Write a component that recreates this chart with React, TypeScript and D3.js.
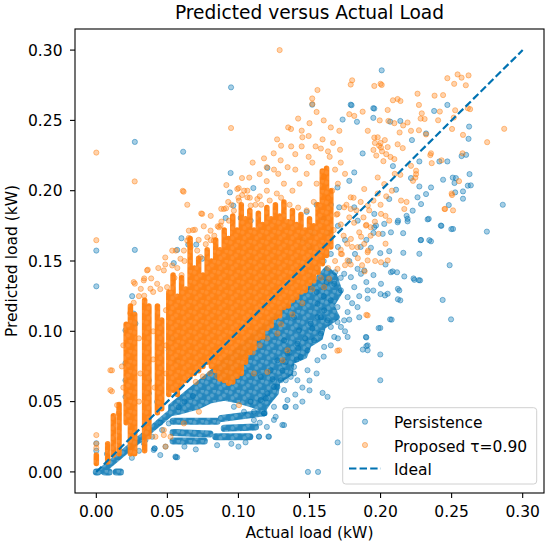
import React from 'react'
import * as d3 from 'd3'

// tick values for both axes (kW)
const xTicks = [0, 0.05, 0.1, 0.15, 0.2, 0.25, 0.3]
const yTicks = [0, 0.05, 0.1, 0.15, 0.2, 0.25, 0.3]
const legendLabels = ['Persistence', 'Proposed \u03c4=0.90', 'Ideal']
const ideal = [[0, 0], [0.3, 0.3]]

// outline of the solid persistence cloud under the diagonal [x, y]
const blueCloud = [
  [0.052, 0.047], [0.075, 0.066], [0.1, 0.088], [0.13, 0.115], [0.15, 0.132], [0.162, 0.145],
  [0.168, 0.14], [0.172, 0.128], [0.166, 0.118], [0.17, 0.11], [0.16, 0.103], [0.158, 0.095],
  [0.15, 0.09], [0.147, 0.082], [0.138, 0.078], [0.137, 0.07], [0.128, 0.064], [0.127, 0.056],
  [0.122, 0.05], [0.118, 0.044], [0.11, 0.047], [0.1, 0.05], [0.09, 0.052], [0.08, 0.05],
  [0.072, 0.046], [0.065, 0.044], [0.058, 0.042], [0.052, 0.041],
]

// dense persistence streaks [x0, y0, x1, y1]
const blueStreaks = [
  [0.0, 0.0, 0.001, 0.0], [0.006, 0.0, 0.009, 0.0], [0.014, 0.0, 0.017, 0.0],
  [0.004, 0.001, 0.03, 0.023], [0.03, 0.023, 0.058, 0.047],
  [0.054, 0.036, 0.085, 0.036], [0.088, 0.038, 0.118, 0.042],
  [0.054, 0.028, 0.08, 0.027], [0.054, 0.022, 0.076, 0.022], [0.084, 0.025, 0.108, 0.025],
  [0.09, 0.031, 0.112, 0.032],
]

// dense vertical stacks of the proposed model: [x, yLow, yHigh]
const orangeStacks = [
  [0.0, 0.006, 0.012], [0.008, 0.007, 0.02], [0.012, 0.012, 0.04], [0.016, 0.013, 0.048],
  [0.021, 0.035, 0.105], [0.024, 0.013, 0.118], [0.027, 0.013, 0.112], [0.034, 0.015, 0.122],
  [0.037, 0.025, 0.118], [0.043, 0.042, 0.118], [0.046, 0.045, 0.108], [0.051, 0.055, 0.128],
  [0.054, 0.058, 0.14], [0.057, 0.055, 0.125], [0.06, 0.062, 0.138], [0.063, 0.065, 0.13],
  [0.066, 0.068, 0.166], [0.069, 0.07, 0.145], [0.072, 0.072, 0.152], [0.075, 0.075, 0.14],
  [0.078, 0.078, 0.158], [0.081, 0.075, 0.15], [0.084, 0.072, 0.165], [0.087, 0.066, 0.158],
  [0.09, 0.065, 0.172], [0.093, 0.063, 0.166], [0.096, 0.064, 0.182], [0.099, 0.068, 0.172],
  [0.102, 0.07, 0.19], [0.105, 0.078, 0.18], [0.108, 0.085, 0.186], [0.111, 0.088, 0.172],
  [0.114, 0.095, 0.184], [0.117, 0.096, 0.176], [0.12, 0.102, 0.188], [0.123, 0.104, 0.18],
  [0.126, 0.11, 0.19], [0.129, 0.111, 0.182], [0.132, 0.117, 0.192], [0.135, 0.118, 0.178],
  [0.138, 0.122, 0.186], [0.141, 0.124, 0.176], [0.144, 0.128, 0.183], [0.147, 0.129, 0.172],
  [0.15, 0.134, 0.18], [0.153, 0.136, 0.175], [0.156, 0.142, 0.19], [0.159, 0.148, 0.214],
  [0.162, 0.154, 0.216], [0.165, 0.16, 0.2],
]

// single persistence forecasts [actual, predicted]
const bluePoints = [
  [0.0948, 0.2735], [0.2008, 0.2856], [0.0271, 0.2347], [0.0611, 0.2277], [0.0, 0.1574], [0.0, 0.132],
  [0.0271, 0.1579], [0.286, 0.19], [0.2748, 0.1709], [0.2496, 0.1085], [0.2437, 0.1223], [0.2486, 0.147],
  [0.1998, 0.0652], [0.1998, 0.0835], [0.1986, 0.1023], [0.1698, 0.021], [0.1489, 0.0], [0.156, 0.0],
  [0.1592, 0.0562], [0.1627, 0.0534], [0.1329, 0.0462], [0.1309, 0.0334], [0.1211, 0.0252], [0.1144, 0.0252],
  [0.0559, 0.0104], [0.0411, 0.0166], [0.0945, 0.2126], [0.094, 0.1988], [0.1105, 0.2019], [0.0964, 0.1894],
  [0.1204, 0.2162], [0.179, 0.2612], [0.1949, 0.2587], [0.1519, 0.2612], [0.0599, 0.1662], [0.0647, 0.1617],
  [0.0703, 0.1617], [0.0569, 0.1579], [0.0545, 0.1485], [0.0745, 0.1516], [0.091, 0.1806], [0.1016, 0.1806],
  [0.1086, 0.1787], [0.0252, 0.125], [0.1796, 0.2608], [0.1956, 0.2584], [0.1733, 0.2506], [0.1834, 0.249],
  [0.1949, 0.2518], [0.2139, 0.2496], [0.2068, 0.2491], [0.2377, 0.2567], [0.247, 0.261], [0.2623, 0.2456],
  [0.2619, 0.2369], [0.2221, 0.236], [0.232, 0.2407], [0.2602, 0.2255], [0.257, 0.2246], [0.2414, 0.2208],
  [0.247, 0.2208], [0.2273, 0.2208], [0.2087, 0.2175], [0.2214, 0.209], [0.244, 0.2078], [0.253, 0.209],
  [0.252, 0.2055], [0.2635, 0.2038], [0.258, 0.1995], [0.2525, 0.1988], [0.2273, 0.203], [0.2355, 0.2023],
  [0.226, 0.1953], [0.2285, 0.1905], [0.232, 0.1976], [0.2109, 0.2007], [0.2061, 0.1941], [0.248, 0.1898],
  [0.258, 0.1943], [0.2226, 0.1858], [0.219, 0.18], [0.2123, 0.1787], [0.2339, 0.18], [0.2428, 0.175],
  [0.251, 0.1728], [0.1956, 0.174], [0.2015, 0.1693], [0.2073, 0.1704], [0.1874, 0.2265], [0.1815, 0.213],
  [0.178, 0.207], [0.1697, 0.2023], [0.1709, 0.1882], [0.1815, 0.1882], [0.1956, 0.1835], [0.1839, 0.1787],
  [0.2614, 0.2036], [0.2626, 0.2118], [0.2508, 0.2093], [0.2331, 0.1796], [0.2424, 0.1752], [0.2498, 0.1727],
  [0.2282, 0.1648], [0.2343, 0.1648], [0.2232, 0.1376], [0.2269, 0.1364], [0.2122, 0.1302], [0.2122, 0.1228],
  [0.2067, 0.1085], [0.19, 0.0956], [0.19, 0.0895], [0.1875, 0.087], [0.2085, 0.1426], [0.2035, 0.1475],
  [0.1949, 0.129], [0.2, 0.1265], [0.2159, 0.1698], [0.2183, 0.1821], [0.1968, 0.1752], [0.2026, 0.1764],
  [0.212, 0.1775], [0.219, 0.1782], [0.2355, 0.164], [0.2285, 0.165], [0.216, 0.1558], [0.2273, 0.1551],
  [0.2061, 0.157], [0.1998, 0.1556], [0.1932, 0.1594], [0.2073, 0.142], [0.2116, 0.142], [0.2167, 0.139],
  [0.2238, 0.1366], [0.2278, 0.1362], [0.2003, 0.1338], [0.205, 0.1267], [0.2031, 0.1255], [0.2132, 0.1291],
  [0.2139, 0.122], [0.1909, 0.1291], [0.1909, 0.1232], [0.2078, 0.1083], [0.1998, 0.1024], [0.1897, 0.096],
  [0.1909, 0.09], [0.1909, 0.0865], [0.178, 0.1083], [0.1768, 0.1137], [0.1697, 0.1066], [0.1838, 0.1444],
  [0.1885, 0.1433], [0.1862, 0.1409], [0.1791, 0.1385], [0.1744, 0.1409], [0.1815, 0.1314], [0.1721, 0.1291],
  [0.1768, 0.1243], [0.165, 0.122], [0.1697, 0.1172], [0.1603, 0.1149], [0.1627, 0.1078], [0.1556, 0.1101],
  [0.1721, 0.1031], [0.158, 0.0984], [0.1674, 0.096], [0.1532, 0.0936], [0.1603, 0.0889], [0.1486, 0.0865],
  [0.1556, 0.0794], [0.1439, 0.0818], [0.1391, 0.0747], [0.1486, 0.0723], [0.1368, 0.0676], [0.1298, 0.0652],
  [0.125, 0.0605], [0.1321, 0.0582], [0.1204, 0.0558], [0.1157, 0.0511], [0.1345, 0.0511], [0.125, 0.0463],
  [0.118, 0.0416], [0.1109, 0.0428], [0.1768, 0.096], [0.1744, 0.1078], [0.1838, 0.1172], [0.1674, 0.1338],
  [0.1486, 0.1314], [0.1556, 0.1196], [0.165, 0.1031], [0.1427, 0.1007], [0.1509, 0.1055], [0.1391, 0.1101],
  [0.1321, 0.0936], [0.1415, 0.0913], [0.1345, 0.0842], [0.1274, 0.0794], [0.1227, 0.0723], [0.1157, 0.0676],
  [0.0, 0.0151], [0.0, 0.0204], [0.0075, 0.0128], [0.0557, 0.0109], [0.0404, 0.0156], [0.0487, 0.018],
  [0.0334, 0.0204], [0.0205, 0.1007], [0.0275, 0.1055], [0.0263, 0.1126], [0.0205, 0.0773], [0.0205, 0.0652],
  [0.0205, 0.0534], [0.0369, 0.0652], [0.0369, 0.0558], [0.0428, 0.0499], [0.051, 0.0345], [0.0463, 0.0298],
  [0.0393, 0.025], [0.0346, 0.0227], [0.0534, 0.0948], [0.051, 0.0865], [0.0569, 0.0794], [0.0569, 0.0104],
  [0.0409, 0.0168], [0.1145, 0.025], [0.1215, 0.025], [0.1333, 0.0463], [0.1262, 0.0392], [0.1321, 0.0333],
  [0.1403, 0.0463], [0.1415, 0.0652], [0.1391, 0.07], [0.1333, 0.0652], [0.1274, 0.0605], [0.1192, 0.0522],
  [0.1086, 0.0499], [0.0968, 0.0463], [0.118, 0.0416], [0.1109, 0.0369], [0.1039, 0.0428],
  [0.15, 0.14], [0.155, 0.145], [0.16, 0.15], [0.165, 0.155], [0.17, 0.16], [0.175, 0.165],
  [0.168, 0.142], [0.172, 0.138], [0.178, 0.15], [0.182, 0.155], [0.186, 0.16], [0.19, 0.165],
  [0.195, 0.17], [0.18, 0.12], [0.185, 0.11], [0.175, 0.1], [0.17, 0.095], [0.165, 0.09],
  [0.16, 0.082], [0.155, 0.07], [0.15, 0.065], [0.145, 0.06], [0.14, 0.055], [0.145, 0.05],
  [0.15, 0.058], [0.185, 0.125], [0.19, 0.135], [0.195, 0.14], [0.16, 0.125], [0.155, 0.128],
  [0.162, 0.135], [0.158, 0.16], [0.163, 0.17], [0.17, 0.175], [0.16, 0.18], [0.152, 0.17],
  [0.15, 0.16], [0.145, 0.165], [0.155, 0.19], [0.148, 0.185], [0.165, 0.19], [0.025, 0.01],
  [0.03, 0.015], [0.045, 0.012], [0.062, 0.018], [0.07, 0.016], [0.095, 0.02], [0.1, 0.018],
  [0.105, 0.021], [0.085, 0.019], [0.115, 0.035], [0.12, 0.032], [0.125, 0.037], [0.045, 0.035],
  [0.142, 0.088], [0.147, 0.095], [0.152, 0.102], [0.158, 0.11], [0.136, 0.085], [0.131, 0.072],
  [0.124, 0.066], [0.133, 0.078], [0.141, 0.08], [0.062, 0.05], [0.068, 0.054], [0.058, 0.046],
]

// single proposed-model forecasts [actual, predicted]
const orangePoints = [
  [0.129, 0.3], [0.0948, 0.2446], [0.0608, 0.1999], [0.064, 0.19], [0.0738, 0.1838], [0.0913, 0.1875],
  [0.1556, 0.2716], [0.1519, 0.2656], [0.152, 0.2617], [0.011, 0.0722], [0.011, 0.0573], [0.0, 0.1648],
  [0.0, 0.2271], [0.19, 0.1117], [0.1696, 0.0862], [0.0362, 0.1438], [0.0337, 0.1376], [0.0271, 0.1339],
  [0.0534, 0.1574], [0.0485, 0.1475], [0.179, 0.2755], [0.2, 0.276], [0.142, 0.2513], [0.137, 0.2439],
  [0.1272, 0.2365], [0.1248, 0.2266], [0.1445, 0.2427], [0.1494, 0.2389], [0.1543, 0.2315], [0.1592, 0.2365],
  [0.1666, 0.234], [0.1715, 0.2291], [0.1642, 0.2241], [0.1494, 0.2241], [0.1445, 0.2315], [0.1371, 0.2315],
  [0.1297, 0.2216], [0.1346, 0.2167], [0.1199, 0.2167], [0.1149, 0.2118], [0.1076, 0.2093], [0.1199, 0.2068],
  [0.1002, 0.2019], [0.1026, 0.1969], [0.0928, 0.192], [0.0879, 0.1871], [0.0805, 0.1821], [0.0854, 0.1747],
  [0.0756, 0.1747], [0.0694, 0.1722], [0.0805, 0.1648], [0.0657, 0.1623], [0.0559, 0.1574], [0.0485, 0.1525],
  [0.0436, 0.145], [0.0386, 0.1376], [0.0313, 0.1302], [0.0337, 0.1253], [0.0263, 0.1203], [0.0239, 0.1129],
  [0.027, 0.2066], [0.0614, 0.1993], [0.0745, 0.1835], [0.1025, 0.209], [0.0915, 0.204], [0.0651, 0.1716],
  [0.0651, 0.1664], [0.0863, 0.174], [0.0898, 0.187], [0.1004, 0.1929], [0.1063, 0.1953], [0.0781, 0.1669],
  [0.0827, 0.1645], [0.0733, 0.1527], [0.0592, 0.1516], [0.0534, 0.1468], [0.0475, 0.1433], [0.0357, 0.1433],
  [0.0334, 0.1362], [0.0263, 0.135], [0.0428, 0.1338], [0.0498, 0.1314], [0.0381, 0.1303], [0.064, 0.1645],
  [0.0616, 0.1574], [0.0663, 0.1598], [0.071, 0.1574], [0.0804, 0.1716], [0.0874, 0.1752], [0.0933, 0.1787],
  [0.0968, 0.1858], [0.1086, 0.1894], [0.1133, 0.1941], [0.1063, 0.2], [0.0992, 0.2012], [0.18, 0.2785],
  [0.1956, 0.2745], [0.2008, 0.2752], [0.247, 0.28], [0.257, 0.2804], [0.2619, 0.282], [0.26, 0.275],
  [0.226, 0.269], [0.238, 0.2676], [0.244, 0.268], [0.2087, 0.2643], [0.212, 0.2652], [0.214, 0.2638],
  [0.227, 0.261], [0.205, 0.2574], [0.263, 0.258], [0.287, 0.244], [0.275, 0.2345], [0.229, 0.255],
  [0.231, 0.251], [0.2417, 0.2563], [0.2525, 0.2572], [0.2515, 0.252], [0.258, 0.2397], [0.235, 0.2253],
  [0.236, 0.2196], [0.25, 0.198], [0.251, 0.186], [0.245, 0.187], [0.2228, 0.207], [0.225, 0.2118],
  [0.2144, 0.193], [0.2167, 0.187], [0.19, 0.1757], [0.193, 0.174], [0.219, 0.2485], [0.2214, 0.2426],
  [0.227, 0.243], [0.232, 0.24], [0.2097, 0.248], [0.2055, 0.2496], [0.1994, 0.25], [0.1874, 0.2562],
  [0.178, 0.2544], [0.1815, 0.2532], [0.171, 0.2426], [0.191, 0.2426], [0.1956, 0.2378], [0.2003, 0.2307],
  [0.212, 0.233], [0.2156, 0.2303], [0.2097, 0.2225], [0.2214, 0.2177], [0.225, 0.2142], [0.2139, 0.2113],
  [0.198, 0.2094], [0.2026, 0.2047], [0.1885, 0.2012], [0.179, 0.1953], [0.1744, 0.1882], [0.1697, 0.1835],
  [0.2003, 0.1835], [0.2061, 0.1787], [0.191, 0.1894], [0.1709, 0.0865], [0.1909, 0.1113], [0.1897, 0.1752],
  [0.185, 0.1704], [0.1986, 0.1693], [0.2003, 0.1491], [0.205, 0.1504], [0.1909, 0.1504], [0.1909, 0.1562],
  [0.1885, 0.1622], [0.1791, 0.1657], [0.1838, 0.1598], [0.1721, 0.1551], [0.1768, 0.1504], [0.1697, 0.1444],
  [0.1638, 0.1374], [0.1603, 0.1314], [0.179, 0.187], [0.1814, 0.1772], [0.1863, 0.1673], [0.1765, 0.1623],
  [0.1912, 0.1574], [0.1962, 0.15], [0.1888, 0.1426], [0.179, 0.1475], [0.1728, 0.1549], [0.2035, 0.1623],
  [0.2035, 0.1821], [0.2183, 0.192], [0.2245, 0.2093], [0.2355, 0.2266], [0.2429, 0.2216], [0.2552, 0.2068],
  [0.2503, 0.1969], [0.2454, 0.187], [0.2577, 0.2266], [0.2503, 0.2439], [0.2405, 0.2501], [0.2282, 0.2513],
  [0.2159, 0.2464], [0.2134, 0.2414], [0.2614, 0.2587], [0.2518, 0.276], [0.2542, 0.2827], [0.197, 0.225],
  [0.199, 0.232], [0.201, 0.228], [0.203, 0.236], [0.198, 0.238], [0.205, 0.231], [0.207, 0.224],
  [0.195, 0.229], [0.202, 0.221], [0.2, 0.234], [0.204, 0.226], [0.196, 0.234], [0.11, 0.22],
  [0.118, 0.223], [0.125, 0.215], [0.13, 0.232], [0.14, 0.226], [0.145, 0.238], [0.135, 0.245],
  [0.15, 0.248], [0.155, 0.256], [0.16, 0.25], [0.165, 0.245], [0.0475, 0.0262], [0.0416, 0.025],
  [0.0475, 0.0298], [0.0487, 0.018], [0.0722, 0.0428], [0.1004, 0.0475], [0.1204, 0.0711], [0.1109, 0.07],
  [0.131, 0.0794], [0.1345, 0.0865], [0.1274, 0.0984], [0.0616, 0.0345], [0.0522, 0.025], [0.0099, 0.0723],
  [0.0099, 0.0582], [0.0, 0.0262], [0.0146, 0.0475], [0.0157, 0.0416], [0.0, 0.02], [0.0, 0.017],
  [0.167, 0.172], [0.169, 0.183], [0.172, 0.176], [0.174, 0.168], [0.176, 0.19], [0.178, 0.181],
  [0.181, 0.195], [0.183, 0.186], [0.186, 0.192], [0.188, 0.181], [0.192, 0.186], [0.195, 0.193],
  [0.198, 0.198], [0.172, 0.158], [0.175, 0.147], [0.18, 0.16], [0.184, 0.152], [0.187, 0.147],
  [0.193, 0.168], [0.196, 0.178], [0.2, 0.19], [0.204, 0.196], [0.208, 0.2], [0.21, 0.212],
  [0.166, 0.2], [0.17, 0.205], [0.175, 0.212], [0.168, 0.215], [0.172, 0.22], [0.163, 0.228],
  [0.158, 0.23], [0.152, 0.22], [0.148, 0.212], [0.155, 0.205], [0.143, 0.205], [0.138, 0.2],
  [0.132, 0.205], [0.127, 0.198], [0.12, 0.2], [0.115, 0.196], [0.128, 0.212], [0.14, 0.215],
  [0.16, 0.21], [0.163, 0.195], [0.068, 0.172], [0.072, 0.165], [0.077, 0.162], [0.083, 0.168],
  [0.088, 0.178], [0.095, 0.19], [0.1, 0.195], [0.104, 0.2], [0.108, 0.195], [0.112, 0.19],
  [0.057, 0.145], [0.06, 0.14], [0.062, 0.15], [0.045, 0.13], [0.04, 0.128], [0.03, 0.125],
  [0.055, 0.138], [0.1, 0.072], [0.105, 0.082], [0.11, 0.085], [0.115, 0.09], [0.12, 0.095],
  [0.13, 0.105], [0.138, 0.112], [0.145, 0.12], [0.152, 0.13], [0.158, 0.138], [0.163, 0.145],
  [0.168, 0.15], [0.085, 0.068], [0.08, 0.07], [0.075, 0.068], [0.07, 0.064], [0.019, 0.09],
  [0.018, 0.075], [0.019, 0.06], [0.03, 0.095], [0.031, 0.07], [0.03, 0.05], [0.04, 0.1],
  [0.04, 0.08], [0.041, 0.06], [0.049, 0.115], [0.049, 0.09], [0.049, 0.07], [0.116, 0.19],
  [0.122, 0.193], [0.13, 0.195], [0.136, 0.19], [0.142, 0.188], [0.148, 0.186], [0.153, 0.192],
]

const BLUE = '#0072B2'
const ORANGE = '#FF7F0E'
const FONT = '"DejaVu Sans", Verdana, sans-serif'

const W = 550
const H = 545
const margin = { top: 29, right: 6, bottom: 52, left: 75 }

export default function App() {
  const x = d3.scaleLinear().domain([-0.015, 0.315]).range([margin.left, W - margin.right])
  const y = d3.scaleLinear().domain([-0.015, 0.315]).range([H - margin.bottom, margin.top])
  const fmt = d3.format('.2f')
  const line = d3.line<number[]>().x(d => x(d[0])).y(d => y(d[1]))
  const area = d3.line<number[]>().x(d => x(d[0])).y(d => y(d[1])).curve(d3.curveLinearClosed)
  const left = margin.left
  const right = W - margin.right
  const top = margin.top
  const bottom = H - margin.bottom
  const cx = (left + right) / 2
  const cy = (top + bottom) / 2

  const dot = (d: number[], i: number, color: string) => (
    <circle key={i} cx={x(d[0])} cy={y(d[1])} r={2.6} fill={color} fillOpacity={0.35}
      stroke={color} strokeOpacity={0.45} strokeWidth={1} />
  )

  // speckle texture so the solid clouds read as overlapping markers
  const speckle = (id: string, color: string, holes: number) => (
    <pattern id={id} width={12} height={10} patternUnits="userSpaceOnUse">
      <rect width={12} height={10} fill={color} />
      {[[2.5, 2.5], [8, 5.5], [4.5, 8], [10.5, 1]].map((c, i) => (
        <circle key={i} cx={c[0]} cy={c[1]} r={2.2} fill="#fff" fillOpacity={holes}
          stroke={color} strokeOpacity={0.6} strokeWidth={0.8} />
      ))}
    </pattern>
  )

  return (
    <svg width={W} height={H} style={{ position: 'absolute', left: 0, top: 0, background: '#fff' }}
      fontFamily={FONT}>
      <defs>
        <clipPath id="plot"><rect x={left} y={top} width={right - left} height={bottom - top} /></clipPath>
        {speckle('texB', BLUE, 0.22)}
        {speckle('texO', ORANGE, 0.1)}
      </defs>
      <g clipPath="url(#plot)">
        <g opacity={0.85}>
          <path d={area(blueCloud) || ''} fill="url(#texB)" stroke="url(#texB)" strokeWidth={4}
            strokeLinejoin="round" />
          {blueStreaks.map((s, i) => (
            <line key={i} x1={x(s[0])} y1={y(s[1])} x2={x(s[2])} y2={y(s[3])}
              stroke="url(#texB)" strokeWidth={7} strokeLinecap="round" />
          ))}
        </g>
        <g>{bluePoints.map((d, i) => dot(d, i, BLUE))}</g>
        <g opacity={0.97}>
          {orangeStacks.map((s, i) => (
            <line key={i} x1={x(s[0])} y1={y(s[1])} x2={x(s[0])} y2={y(s[2])}
              stroke="url(#texO)" strokeWidth={5.5} strokeLinecap="round" />
          ))}
        </g>
        <g>{orangePoints.map((d, i) => dot(d, i, ORANGE))}</g>
        <path d={line(ideal) || ''} fill="none" stroke={BLUE} strokeWidth={2.2} strokeDasharray="7.4 3.2" />
      </g>
      <rect x={left} y={top} width={right - left} height={bottom - top} fill="none" stroke="#000" strokeWidth={1.1} />

      {xTicks.map(t => (
        <g key={t}>
          <line x1={x(t)} x2={x(t)} y1={bottom} y2={bottom + 5} stroke="#000" strokeWidth={1.1} />
          <text x={x(t)} y={516.5} textAnchor="middle" fontSize={15.5}>{fmt(t)}</text>
        </g>
      ))}
      {yTicks.map(t => (
        <g key={t}>
          <line x1={left - 5} x2={left} y1={y(t)} y2={y(t)} stroke="#000" strokeWidth={1.1} />
          <text x={62.5} y={y(t) + 5.6} textAnchor="end" fontSize={15.5}>{fmt(t)}</text>
        </g>
      ))}

      <text x={cx} y={18.5} textAnchor="middle" fontSize={18.6}>Predicted versus Actual Load</text>
      <text x={cx} y={538} textAnchor="middle" fontSize={15.5}>Actual load (kW)</text>
      <text transform={`translate(17,${cy}) rotate(-90)`} textAnchor="middle" fontSize={15.5}>Predicted load (kW)</text>

      <g>
        <rect x={342.7} y={407.7} width={194} height={76.3} rx={3} fill="#fff" fillOpacity={0.8}
          stroke="#d0d0d0" strokeWidth={1} />
        {dot([x.invert(365), y.invert(421.7)], 0, BLUE)}
        {dot([x.invert(365), y.invert(445)], 1, ORANGE)}
        <line x1={349} x2={381} y1={468.5} y2={468.5} stroke={BLUE} strokeWidth={2.2} strokeDasharray="7.4 3.2" />
        {legendLabels.map((l, i) => (
          <text key={l} x={394} y={[428, 451.5, 475][i]} fontSize={15.5}>{l}</text>
        ))}
      </g>
    </svg>
  )
}
